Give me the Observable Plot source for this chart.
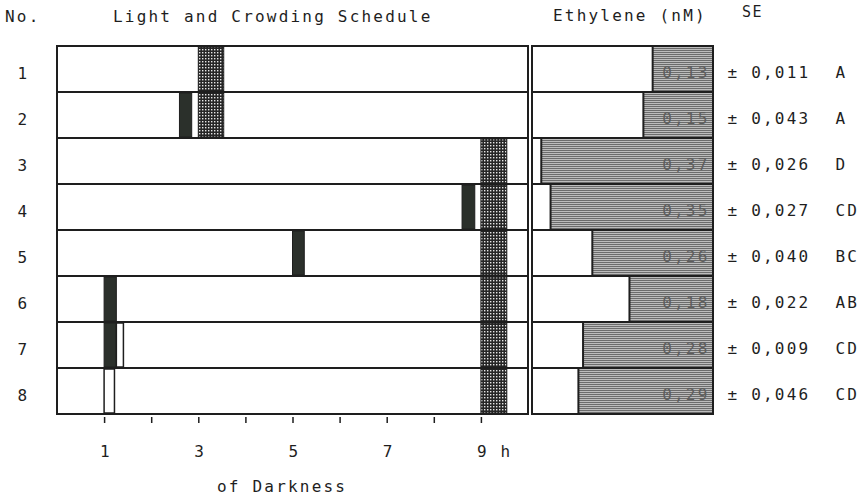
<!DOCTYPE html>
<html><head><meta charset="utf-8">
<script src="https://cdn.jsdelivr.net/npm/d3@7"></script>
<script src="https://cdn.jsdelivr.net/npm/@observablehq/plot@0.6"></script>
<style>
body{margin:0;background:#fff;width:861px;height:497px;position:relative;overflow:hidden;font-family:"DejaVu Sans Mono",monospace;color:#1e1e1e;}
.lbl{position:absolute;font-size:16px;letter-spacing:2.2px;white-space:nowrap;line-height:1;}
#a,#b{position:absolute;top:0}
#a{left:0}#b{left:531px}
</style></head><body>
<svg width="0" height="0" style="position:absolute">
<defs>
<pattern id="stipple" width="3" height="3" patternUnits="userSpaceOnUse">
<rect width="3" height="3" fill="#262626"/><rect x="1" y="1" width="1.4" height="1.4" fill="#e6e6e6"/>
</pattern>
<pattern id="hatch" width="4" height="2" patternUnits="userSpaceOnUse">
<rect width="4" height="2" fill="#bcbcbc"/><rect width="4" height="1" fill="#6c6c6c"/>
</pattern>
</defs></svg>
<div id="a"></div><div id="b"></div>
<div class="lbl" style="left:5px;top:9px">No.</div>
<div class="lbl" style="left:113px;top:9px">Light and Crowding Schedule</div>
<div class="lbl" style="left:553px;top:8px">Ethylene (nM)</div>
<div class="lbl" style="left:742px;top:5px;font-size:15px;letter-spacing:1.5px">SE</div>
<div class="lbl" style="left:217px;top:479px">of Darkness</div>
<script>
const rows = ["1","2","3","4","5","6","7","8"];
const ethylene = [0.13,0.15,0.37,0.35,0.26,0.18,0.28,0.29];
const se = ["0,011","0,043","0,026","0,027","0,040","0,022","0,009","0,046"];
const groups = ["A","A","D","CD","BC","AB","CD","CD"];
const eventRow   = ["1","2","2","3","4","4","5","5","6","6","7","7","7","8","8"];
const eventStart = [3.0,2.6,3.0,9.0,8.6,9.0,5.0,9.0,1.0,9.0,1.0,1.26,9.0,1.0,9.0];
const eventEnd   = [3.54,2.86,3.54,9.55,8.87,9.55,5.25,9.55,1.26,9.55,1.26,1.41,9.55,1.22,9.55];
const eventType  = ["crowd","light","crowd","crowd","light","crowd","light","crowd","light","crowd","light","open","crowd","open","crowd"];
const hourTicks = [1,2,3,4,5,6,7,8,9];
const hourLabels = [1,3,5,7,9];
const hourDomain = [0,10];
const ethDomain = [0,0.39];

const events = eventRow.map((r,i)=>({row:r,start:eventStart[i],end:eventEnd[i],type:eventType[i]}));
const eth = rows.map((r,i)=>({row:r,value:ethylene[i],label:ethylene[i].toFixed(2).replace(".",","),se:se[i],grp:groups[i]}));
const ink = "#1e1e1e";
const baseStyle = {fontFamily:"DejaVu Sans Mono", fontSize:"16px", color:ink, background:"transparent", letterSpacing:"2.2px", overflow:"visible"};

const A = Plot.plot({
  width:531, height:497, marginLeft:57, marginRight:3, marginTop:43, marginBottom:80,
  x:{domain:hourDomain, axis:null}, y:{domain:rows, padding:0, axis:null},
  style:baseStyle,
  marks:[
    Plot.barX(rows,{x1:hourDomain[0],x2:hourDomain[1],y:d=>d,fill:"white",stroke:ink,strokeWidth:2}),
    Plot.barX(events.filter(e=>e.type==="crowd"),{x1:"start",x2:"end",y:"row",fill:"url(#stipple)",stroke:ink,strokeWidth:1,insetTop:1,insetBottom:1}),
    Plot.barX(events.filter(e=>e.type==="light"),{x1:"start",x2:"end",y:"row",fill:"#2b302b",stroke:ink,strokeWidth:1,insetTop:1,insetBottom:1}),
    Plot.barX(events.filter(e=>e.type==="open"),{x1:"start",x2:"end",y:"row",fill:"white",stroke:ink,strokeWidth:1.5,insetTop:1,insetBottom:1}),
    Plot.axisX(hourTicks,{anchor:"bottom",tickSize:6,tickFormat:()=>"",stroke:ink,strokeWidth:1.5}),
    Plot.text(hourLabels,{x:d=>d,frameAnchor:"bottom",dy:39,dx:-4.5,textAnchor:"start",text:d=>d===9?"9 h":String(d),fill:ink}),
    Plot.text(rows,{y:d=>d,frameAnchor:"left",dx:-34,dy:4,textAnchor:"middle",text:d=>d,fill:ink})
  ]
});
document.getElementById("a").append(A);

const B = Plot.plot({
  width:330, height:497, marginLeft:1, marginRight:148, marginTop:43, marginBottom:80,
  x:{domain:ethDomain, reverse:true, axis:null}, y:{domain:rows, padding:0, axis:null},
  style:baseStyle,
  marks:[
    Plot.barX(rows,{x1:ethDomain[0],x2:ethDomain[1],y:d=>d,fill:"white",stroke:ink,strokeWidth:2}),
    Plot.barX(eth,{x1:0,x2:"value",y:"row",fill:"url(#hatch)",stroke:ink,strokeWidth:2}),
    Plot.text(eth,{x:0,y:"row",text:"label",textAnchor:"end",dx:-4,dy:3,fill:"#5e5e5e",fontSize:16}),
    Plot.text(eth,{x:0,y:"row",text:d=>"\u00b1 "+d.se,textAnchor:"start",dx:14,dy:3,fill:ink}),
    Plot.text(eth,{x:0,y:"row",text:"grp",textAnchor:"start",dx:122,dy:3,fill:ink})
  ]
});
document.getElementById("b").append(B);
</script>
</body></html>
